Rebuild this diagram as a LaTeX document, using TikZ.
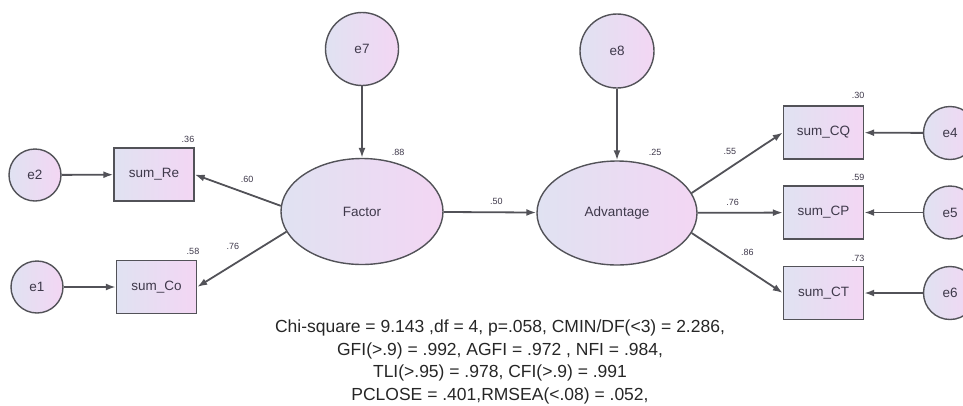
\documentclass[tikz,border=0pt]{standalone}
\usepackage{fontspec}
\setmainfont{Liberation Sans}
\usetikzlibrary{arrows.meta,shapes.geometric}

\definecolor{fillL}{RGB}{224,226,242}
\definecolor{fillR}{RGB}{243,214,243}
\definecolor{edge}{RGB}{82,82,88}
\definecolor{ink}{RGB}{62,56,74}

\begin{document}
\begin{tikzpicture}[x=1pt,y=-1pt,>={Latex[length=10pt,width=7pt]},
  obs/.style={draw=edge,line width=1.4pt,left color=fillL,right color=fillR,
    minimum width=80pt,minimum height=53pt,inner sep=0pt,text=ink,
    font=\fontsize{13.5}{15}\selectfont},
  lat/.style={obs,ellipse,minimum width=162pt,minimum height=106pt},
  err/.style={obs,circle,minimum size=52pt},
  wt/.style={inner sep=1pt,text=ink,font=\fontsize{9}{10}\selectfont},
  conn/.style={draw=edge,line width=1.8pt,->}]
\useasboundingbox (0,0) rectangle (963,405);
% measurement side, left
\node[err] (e2) at (35,175) {e2};
\node[err] (e1) at (37,287) {e1};
\node[obs] (re) at (154,174.5) {sum\_Re};
\node[obs] (co) at (156.5,287) {sum\_Co};
% latent variables
\node[lat] (fac) at (362,211.5) {Factor};
\node[lat,minimum width=160pt,minimum height=104pt] (adv) at (617,213) {Advantage};
\node[err,minimum size=73pt] (e7) at (362,49) {e7};
\node[err,minimum size=74pt] (e8) at (617,51) {e8};
% measurement side, right
\node[obs] (cq) at (823.5,132.5) {sum\_CQ};
\node[obs] (cp) at (823.5,212.5) {sum\_CP};
\node[obs] (ct) at (823.5,293) {sum\_CT};
\node[err,minimum size=53pt] (e4) at (950,133) {e4};
\node[err,minimum size=53pt] (e5) at (950,212.5) {e5};
\node[err,minimum size=53pt] (e6) at (950,293) {e6};
% squared multiple correlations
\node[wt] (r2re) at (188,139) {.36};
\node[wt] (r2co) at (193,251) {.58};
\node[wt] (r2fac) at (398,152) {.88};
\node[wt] (r2adv) at (655,152) {.25};
\node[wt] (r2cq) at (858,95) {.30};
\node[wt] (r2cp) at (858,177) {.59};
\node[wt] (r2ct) at (858,258) {.73};
% paths
\draw[conn] (e2)--(re);
\draw[conn] (e1)--(co);
\draw[conn] (fac.176)--node[wt,pos=.39,above=9pt] {.60}(re.east);
\draw[conn] (fac.195)--node[wt,pos=.6,above=13pt] {.76}(co.east);
\draw[conn] (e7)--(fac);
\draw[conn] (e8)--(adv);
\draw[conn] (fac)--node[wt,pos=.57,above=5.5pt] {.50}(adv);
\draw[conn] (adv.15)--node[wt,pos=.42,above=11pt] {.55}(cq.west);
\draw[conn] (adv)--node[wt,pos=.41,above=5.5pt] {.76}(cp);
\draw[conn] (adv.-15)--node[wt,pos=.61,above=12.5pt] {.86}(ct.west);
\draw[conn] (e4)--(cq);
\draw[conn] (e5)--(cp);
\draw[conn] (e6)--(ct);
% fit indices
\node[align=center,anchor=base,text=black!85,font=\fontsize{17.5}{22.4}\selectfont] (fit) at (500,400)
  {Chi-square = 9.143 ,df = 4, p=.058, CMIN/DF(<3) = 2.286,\\
   GFI(>.9) = .992, AGFI = .972 , NFI = .984,\\
   TLI(>.95) = .978, CFI(>.9) = .991\\
   PCLOSE = .401,RMSEA(<.08) = .052,};
\end{tikzpicture}
\end{document}
